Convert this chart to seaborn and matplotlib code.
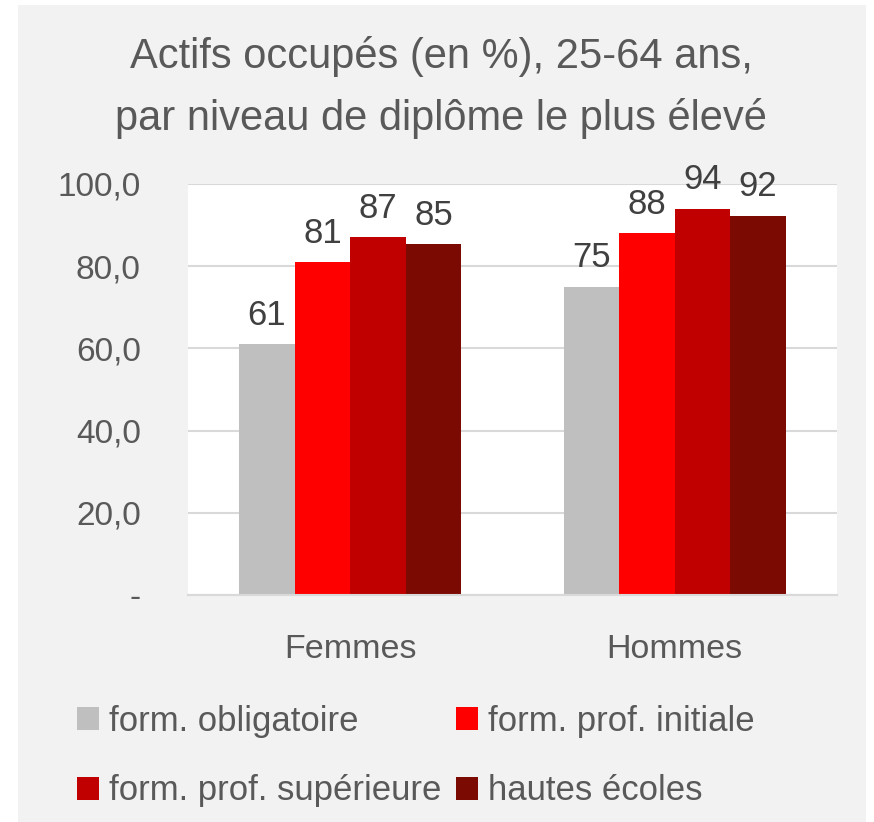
import matplotlib
matplotlib.use("Agg")
import matplotlib.pyplot as plt
import seaborn as sns
import pandas as pd
from matplotlib.patches import Rectangle

# data
groupes = ["Femmes", "Hommes"]
niveaux = ["form. obligatoire", "form. prof. initiale",
           "form. prof. supérieure", "hautes écoles"]
femmes = [61.0, 81.0, 87.1, 85.4]
hommes = [75.0, 88.0, 94.0, 92.3]
couleurs = ["#bfbfbf", "#ff0000", "#c00000", "#7b0a02"]
yticks = [0, 20, 40, 60, 80, 100]
ytick_labels = ["-", "20,0", "40,0", "60,0", "80,0", "100,0"]

df = pd.DataFrame({
    "groupe": [g for g in groupes for _ in niveaux],
    "niveau": niveaux * len(groupes),
    "valeur": femmes + hommes,
})

sns.set_theme(style="whitegrid")
plt.rcParams["font.family"] = ["Liberation Sans", "DejaVu Sans"]
gris_texte = "#595959"
gris_grille = "#d9d9d9"

fig = plt.figure(figsize=(8.74, 8.22), dpi=100, facecolor="white")
fig.patches.append(Rectangle((18 / 874, 0), (866 - 18) / 874, 1 - 5 / 822,
                             transform=fig.transFigure, facecolor="#f2f2f2",
                             edgecolor="none", zorder=-10))

ax = fig.add_axes([188 / 874, 1 - 595 / 822, (837 - 188) / 874, (595 - 184) / 822])
ax.set_facecolor("white")

sns.barplot(data=df, x="groupe", y="valeur", hue="niveau", hue_order=niveaux,
            order=groupes, palette=couleurs, width=0.685, saturation=1,
            edgecolor="none", linewidth=0, errorbar=None, ax=ax)

for cont in ax.containers:
    ax.bar_label(cont, fmt="%.0f", padding=9, fontsize=25, color="#404040")

ax.set_ylim(0, 100)
ax.set_xlim(-0.5, 1.5)
ax.set_yticks(yticks)
ax.set_yticklabels(ytick_labels)
ax.tick_params(axis="y", length=0, pad=34, labelsize=24, labelcolor=gris_texte)
ax.tick_params(axis="x", length=0, pad=28, labelsize=24.5, labelcolor=gris_texte)
ax.set_xlabel("")
ax.set_ylabel("")
ax.grid(axis="y", color=gris_grille, linewidth=1.5)
ax.grid(axis="x", visible=False)
for s in ["top", "left", "right"]:
    ax.spines[s].set_visible(False)
ax.spines["bottom"].set_color(gris_grille)
ax.spines["bottom"].set_linewidth(1.5)

# title
fig.text(441 / 874, 1 - 68 / 822, "Actifs occupés (en %), 25-64 ans,",
         ha="center", va="baseline", fontsize=30, color=gris_texte)
fig.text(441 / 874, 1 - 130 / 822, "par niveau de diplôme le plus élevé",
         ha="center", va="baseline", fontsize=30, color=gris_texte)

# legend, row by row like the original
handles, labels = ax.get_legend_handles_labels()
ordre = [0, 2, 1, 3]
ax.legend([handles[i] for i in ordre], [labels[i] for i in ordre], ncol=2,
          loc="upper left", bbox_to_anchor=(77 / 874, 1 - 705 / 822),
          bbox_transform=fig.transFigure,
          frameon=False, fontsize=25, labelcolor=gris_texte,
          handlelength=0.63, handleheight=0.63, handletextpad=0.29,
          columnspacing=0.43, labelspacing=1.05, borderpad=0, borderaxespad=0)

fig.savefig("out.png", dpi=100, facecolor=fig.get_facecolor())
